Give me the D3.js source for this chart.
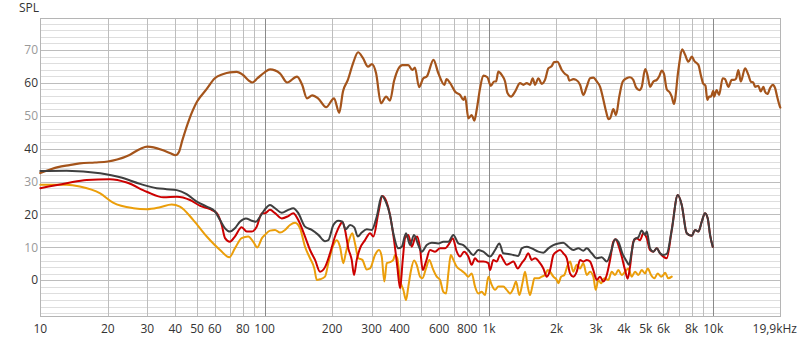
<!DOCTYPE html>
<html><head><meta charset="utf-8">
<script src="https://cdn.jsdelivr.net/npm/d3@7"></script>
<style>body{margin:0;background:#fff}svg{display:block;font-family:"Open Sans","Noto Sans",sans-serif}</style>
</head><body>
<script>
// ---- data ----
const xTickValues = [10,20,30,40,50,60,80,100,200,300,400,600,800,1000,2000,3000,4000,5000,6000,8000,10000];
const xTickLabels = ["10","20","30","40","50","60","80","100","200","300","400","600","800","1k","2k","3k","4k","5k","6k","8k","10k"];
const xEndLabel = "19,9kHz";
const yTickValues = [0,10,20,30,40,50,60,70];
const yLabel = "SPL";

const splFreq = [10,11,12,13.5,15,17.5,20,22,25,28,30,32,35,38,40,41.5,43,46,50,55,60,65,70,75,80,85,88,93,100,105.7,117,126,139.5,147,154.5,163,173,188,204,215,223.5,235,248,261,274.5,289,301,314,330,348,362,378,411,437,455,468,488,510,528,566,595,633,647,672,707,744,770,783,810,838,861,882,913,944,984,1019,1054,1076,1101,1140,1180,1208,1255,1307,1376,1424,1474,1525,1567,1605,1661,1719,1778,1840,1906,1952,2020,2112,2185,2245,2283,2379,2446,2548,2635,2728,2824,2922,3025,3130,3239,3331,3408,3467,3587,3686,3810,3950,4110,4250,4400,4520,4680,4800,4970,5090,5230,5410,5600,5750,5890,6030,6200,6410,6530,6680,6990,7260,7490,7750,8030,8220,8590,8800,9000,9230,9410,9580,9760,10000,10080,10360,10610,11020,11290,11680,12090,12380,12640,12940,13260,13860,14340,14700,15090,15360,15880,16280,16730,17020,17430,17920,18420,18870,19190,19710,19900];
const splValues = [32.6,33.6,34.4,35.0,35.5,35.8,36.1,36.7,38.1,40.0,40.6,40.4,39.6,38.6,38.0,39.0,42.6,48.7,54.3,58.0,61.4,62.6,63.2,63.3,62.4,60.7,60.1,61.4,63.2,64.1,62.9,60.1,61.9,59.4,55.3,56.2,55.3,52.6,55.3,50.9,57.4,60.9,66.0,69.3,67.5,64.9,65.7,62.9,53.8,55.8,54.6,60.7,65.4,65.4,63.9,64.6,58.7,61.4,61.9,67.0,62.9,59.4,61.1,59.9,57.3,56.3,54.8,55.8,49.2,50.2,48.5,51.8,58.4,62.2,61.7,59.1,60.4,60.4,63.4,62.4,60.4,57.0,55.8,57.3,59.9,59.4,59.9,59.4,61.4,59.4,61.4,59.7,60.9,64.4,65.1,66.3,66.4,63.9,62.7,62.1,60.7,61.1,60.9,59.4,56.3,58.8,61.4,61.6,60.4,58.8,54.8,51.2,49.0,49.2,52.0,50.2,55.8,60.4,61.4,61.7,60.9,58.7,57.8,58.8,64.2,62.4,58.8,60.4,60.9,62.1,63.7,62.7,58.1,57.0,55.8,53.6,63.9,70.2,68.5,66.4,68.0,66.7,65.4,62.4,59.9,59.1,54.8,55.8,55.8,57.6,55.8,57.8,56.3,61.4,61.1,58.8,60.9,60.9,61.3,63.9,60.4,64.4,62.4,60.4,60.1,58.8,59.1,57.4,58.8,57.3,56.6,58.4,59.4,58.4,56.3,53.3,52.5];

const grayFreq = [10,13.1,18.5,22.7,27.8,33.0,36.6,40.6,44.9,49.8,55.2,60.1,63.3,66.6,70.0,73.7,77.6,82.5,87.6,91.5,95.4,100.4,105.7,111.3,119.2,127.5,134.2,141.3,151.4,162.2,173.6,185.9,192.3,202.5,213.1,222.0,229.9,240.3,251.1,260.0,270.9,285.3,300.3,316.0,332.7,346.7,362.2,374.7,394.5,408.6,427.0,444.9,463.4,484.4,501.6,528.0,555.8,594.9,626.2,659.2,693.9,730.4,768.9,809.3,851.9,896.7,944.1,1011,1065,1113,1159,1220,1285,1352,1400,1474,1551,1660,1748,1840,1937,2039,2146,2259,2378,2503,2635,2729,2873,3024,3183,3351,3502,3649,3775,3932,4115,4213,4331,4449,4634,4799,4965,5053,5227,5407,5600,5792,5991,6203,6530,6946,7236,7617,8018,8294,8580,8885,9193,9450,9676,9947];
const grayValues = [33.2,33.3,32.5,31.3,29.3,28.0,27.7,27.4,26.2,23.9,22.4,20.9,18.3,15.8,14.8,15.8,17.8,18.8,18.1,17.8,19.3,21.6,22.9,21.9,20.5,21.4,21.9,20.4,16.3,15.3,13.8,11.9,12.2,16.8,18.1,17.8,15.5,16.8,16.1,13.3,14.5,15.5,15.3,19.3,25.6,23.9,19.8,14.3,9.7,10.2,14.3,10.7,13.8,10.7,8.7,10.7,11.4,11.2,11.7,11.7,13.8,11.2,10.7,9.2,7.7,9.2,8.7,7.2,9.2,11.2,8.2,8.0,7.7,7.4,9.7,10.2,9.7,8.7,8.4,9.7,10.7,11.2,11.4,10.2,9.2,9.7,9.0,9.7,8.2,6.7,7.0,5.7,8.7,12.5,11.7,8.2,5.7,4.7,8.7,12.5,13.1,15.1,13.8,14.8,9.7,8.7,9.7,8.2,7.7,8.0,15.3,25.9,22.9,14.3,13.5,15.3,14.8,17.8,20.4,18.8,13.8,10.2];

const redFreq = [10,13.1,16.1,20.4,24.3,29.8,35.4,40.6,46.5,51.6,57.1,61.2,64.4,66.6,70.0,73.7,79.0,83.2,87.6,92.2,97.3,100.4,105.7,111.3,119.2,127.5,134.2,141.3,151.4,159.4,167.8,176.6,185.9,195.7,206.0,216.8,222.0,228.3,236.1,244.5,250.3,257.4,266.2,280.3,295.1,305.3,321.3,334.8,346.7,362.2,377.5,390.5,401.5,412.8,422.7,437.2,452.7,468.3,479.4,493.0,506.8,524.2,546.3,575.0,605.3,637.3,666.0,689.6,718.6,743.3,774.4,809.3,837.9,866.9,896.7,944.1,993.8,1011,1046,1083,1121,1159,1200,1242,1285,1344,1400,1448,1498,1551,1605,1690,1748,1810,1873,1937,2006,2075,2146,2223,2299,2378,2463,2547,2635,2729,2823,2920,3024,3128,3236,3351,3467,3585,3675,3775,3908,4044,4157,4256,4403,4560,4716,4879,5053,5227,5407,5600,5792,5991,6203,6530,6946,7236,7617,8018,8294,8580,8885,9193,9450,9676,9947];
const redValues = [28.0,29.5,30.5,30.7,29.7,26.9,25.2,25.4,24.4,22.6,21.6,20.4,16.8,12.8,11.7,13.3,16.1,14.8,14.8,16.3,20.4,20.4,21.4,20.4,18.8,19.5,20.4,18.3,13.3,9.2,6.2,2.6,4.0,8.2,13.3,16.8,17.8,15.3,9.7,6.2,1.6,6.2,9.7,12.2,14.3,13.3,20.4,25.6,24.4,19.8,12.2,4.1,-2.4,6.2,12.8,13.8,10.2,12.8,13.3,9.7,3.1,5.7,9.2,8.7,9.7,9.7,11.2,12.8,8.7,7.2,8.7,7.2,4.7,6.7,5.7,5.7,5.2,3.1,6.2,5.7,7.7,6.2,4.7,5.2,5.7,3.6,5.2,6.5,8.2,6.2,6.7,5.2,3.6,1.1,3.1,7.7,8.7,9.2,8.2,6.7,2.1,1.1,2.6,6.2,5.7,6.2,5.7,3.1,0.1,1.1,-0.4,1.6,6.2,11.7,12.5,10.7,7.2,3.1,0.5,4.1,11.7,12.8,12.2,14.3,12.8,9.2,8.7,9.7,8.2,7.2,6.7,15.3,25.9,22.9,14.3,13.5,15.3,14.8,17.8,20.4,18.8,13.8,10.2];

const orangeFreq = [10,13.1,15.0,18.5,21.1,26.0,29.8,34.2,38.5,41.9,48.1,55.2,63.3,69.6,73.7,79.0,84.5,89.0,92.8,97.3,100.4,105.7,111.3,117.1,123.3,129.8,136.6,143.8,151.4,159.4,166.6,170.8,176.6,185.9,192.3,202.5,209.7,216.8,224.3,229.9,237.8,246.0,252.9,261.6,272.6,285.3,295.1,310.6,323.6,332.7,341.7,350.3,362.2,374.7,381.4,390.5,401.5,415.3,427.0,437.2,448.1,463.4,476.5,493.0,504.7,524.2,542.3,561.6,585.1,605.3,626.2,643.9,659.2,675.6,693.9,718.6,748.6,782.4,809.3,837.9,866.9,896.7,928.5,960.7,993.8,1029,1065,1101,1159,1200,1242,1285,1321,1366,1415,1448,1489,1524,1561,1594,1650,1720,1779,1829,1873,1937,2006,2039,2097,2168,2246,2299,2378,2463,2547,2635,2729,2823,2920,2993,3074,3160,3269,3406,3527,3649,3775,3908,4044,4182,4331,4481,4634,4799,4965,5105,5280,5463,5656,5851,5991,6097,6306,6530];
const orangeValues = [29.0,29.0,28.5,26.4,23.6,21.9,21.6,22.2,23.0,22.4,18.3,13.3,9.2,7.0,9.7,12.8,13.3,11.7,10.0,12.8,13.8,15.1,15.3,14.5,15.3,16.8,17.5,15.8,10.2,6.7,3.6,0.1,0.3,1.1,5.2,10.7,12.2,10.2,5.2,8.2,12.2,14.3,11.2,6.7,6.2,3.3,3.6,7.7,9.2,7.2,-0.4,5.2,5.5,6.2,7.7,6.7,0.1,-2.9,-6.0,-1.9,2.6,6.0,4.7,1.1,0.6,3.6,6.2,3.6,1.1,0.1,-3.5,-4.0,2.1,7.7,6.2,4.1,3.1,2.1,1.1,2.1,-1.9,-4.0,-3.5,-4.5,1.1,-1.4,-2.9,-1.9,-1.9,-2.9,-4.0,-2.4,-0.4,-4.5,-0.4,2.6,-1.9,-4.5,-1.9,0.6,0.6,1.1,1.6,3.1,2.6,1.1,0.1,-0.9,1.1,1.6,4.7,5.7,2.6,4.7,3.6,5.2,1.6,2.6,1.1,-2.9,0.1,-0.9,0.6,0.1,2.6,1.6,3.1,1.6,2.6,3.6,1.1,2.6,1.6,3.1,2.1,3.6,1.6,0.6,2.1,1.1,1.6,2.3,0.6,1.1];

const series = [
  {name:"SPL", freq:splFreq, values:splValues, color:"#a4541b", width:2.2},
  {name:"orange", freq:orangeFreq, values:orangeValues, color:"#eb9e0a", width:2},
  {name:"red", freq:redFreq, values:redValues, color:"#cc0000", width:2},
  {name:"gray", freq:grayFreq, values:grayValues, color:"#3f3f3f", width:2}
];

// ---- chart ----
const W = 800, H = 340;
const mLeft = 40.3, mRight = 780.3, mTop = 18, mBottom = 316;
const svg = d3.select("body").append("svg").attr("width", W).attr("height", H);
const x = d3.scaleLog().domain([10, 19900]).range([mLeft, mRight]);
const y = d3.scaleLinear().domain([-10.85, 79.7]).range([mBottom, mTop]);

const g = svg.append("g");
const minorY = d3.range(-10, 80, 2).filter(v => v % 10 !== 0);
g.selectAll("line.hmin").data(minorY).enter().append("line")
  .attr("x1", mLeft).attr("x2", mRight)
  .attr("y1", d => Math.round(y(d)) + 0.5).attr("y2", d => Math.round(y(d)) + 0.5)
  .attr("stroke", "#dedede").attr("stroke-width", 1);
g.selectAll("line.hmaj").data([-10].concat(yTickValues)).enter().append("line")
  .attr("x1", mLeft).attr("x2", mRight)
  .attr("y1", d => Math.round(y(d)) + 0.5).attr("y2", d => Math.round(y(d)) + 0.5)
  .attr("stroke", d => d === -10 ? "#dedede" : "#bdbdbd").attr("stroke-width", 1);
const vGrid = [];
[10, 100, 1000].forEach(b => { for (let k = 1; k <= 9; k++) vGrid.push(b * k); });
vGrid.push(10000);
g.selectAll("line.v").data(vGrid).enter().append("line")
  .attr("x1", d => Math.round(x(d)) + 0.5).attr("x2", d => Math.round(x(d)) + 0.5)
  .attr("y1", mTop).attr("y2", mBottom)
  .attr("stroke", d => (d === 100 || d === 1000 || d === 10000) ? "#8a8a8a" : "#bdbdbd")
  .attr("stroke-width", 1);
g.append("rect").attr("x", Math.round(mLeft) + 0.5).attr("y", mTop + 0.5)
  .attr("width", Math.round(mRight) - Math.round(mLeft)).attr("height", mBottom - mTop)
  .attr("fill", "none").attr("stroke", "#b5b5b5");

svg.selectAll("text.yt").data(yTickValues).enter().append("text")
  .attr("x", 38).attr("y", d => y(d)).attr("dy", "0.35em")
  .attr("text-anchor", "end").attr("font-size", 12)
  .attr("fill", d => (d / 10) % 2 === 0 ? "#333" : "#999")
  .text(d => d);
svg.selectAll("text.xt").data(xTickValues).enter().append("text")
  .attr("x", d => x(d)).attr("y", 333)
  .attr("text-anchor", "middle").attr("font-size", 12).attr("fill", "#333")
  .text((d, i) => xTickLabels[i]);
svg.append("text").attr("x", 797).attr("y", 333).attr("text-anchor", "end")
  .attr("font-size", 12).attr("fill", "#333").text(xEndLabel);
svg.append("text").attr("x", 19).attr("y", 12).attr("font-size", 12)
  .attr("fill", "#333").text(yLabel);

const line = d3.line().x(d => x(d[0])).y(d => y(d[1])).curve(d3.curveMonotoneX);
series.forEach(s => {
  const pts = s.freq.map((f, i) => [f, s.values[i]]);
  svg.append("path").datum(pts).attr("d", line)
    .attr("fill", "none").attr("stroke", s.color).attr("stroke-width", s.width)
    .attr("stroke-linejoin", "round").attr("stroke-linecap", "round");
});
</script>
</body></html>
